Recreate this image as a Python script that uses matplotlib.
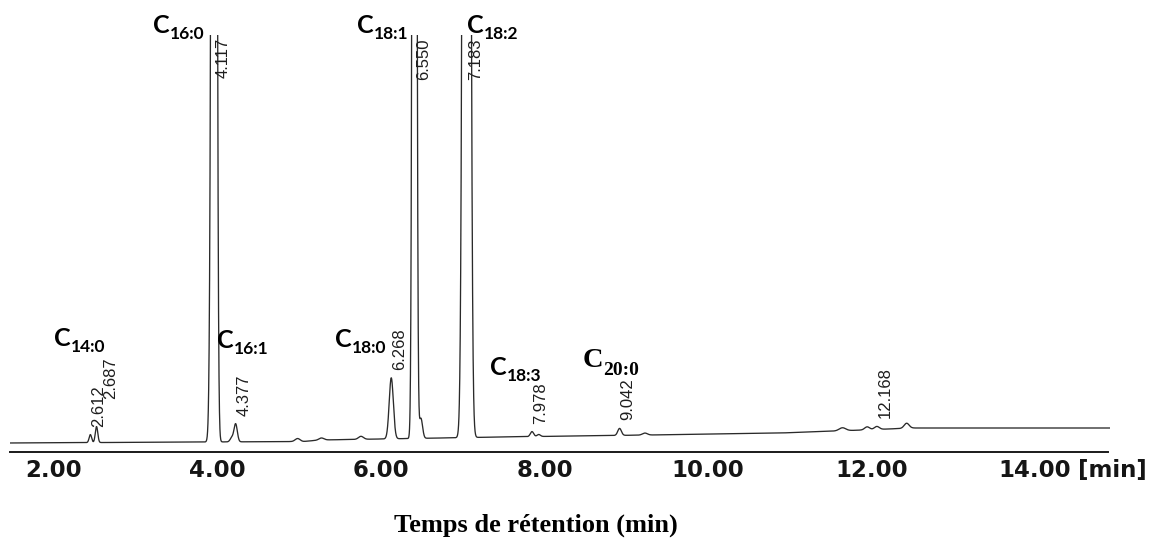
import numpy as np
import matplotlib
matplotlib.use("Agg")
import matplotlib.pyplot as plt
from matplotlib import font_manager

# Printed retention-time scale under the trace
scale_ticks = [2, 4, 6, 8, 10, 12, 14]
scale_labels = ["2.00", "4.00", "6.00", "8.00", "10.00", "12.00", "14.00"]

# Chromatogram peaks: retention time (min), height (signal units), width sigma (min)
peak_rt = [2.612, 2.687, 4.085, 4.117, 4.33, 4.377, 5.13, 5.42, 5.90,
           6.268, 6.550, 6.628, 7.183, 7.978, 8.06, 9.042, 9.35,
           11.75, 12.05, 12.168, 12.53]
peak_height = [8, 16, 175, 3000, 4, 18, 3, 2, 3,
               61, 2600, 20, 3500, 5, 2, 7, 2,
               3, 3, 3, 5]
peak_sigma = [0.015, 0.015, 0.02, 0.021, 0.02, 0.02, 0.03, 0.03, 0.03,
              0.025, 0.018, 0.02, 0.029, 0.02, 0.02, 0.022, 0.03,
              0.04, 0.03, 0.03, 0.03]

# Baseline drift of the detector signal
drift_rt = [1.6, 4.0, 5.2, 5.4, 7.6, 9.4, 10.2, 11.0, 12.0, 12.6, 15.0]
drift_level = [0, 1, 1.5, 3, 6, 8, 9, 10, 13, 15, 15]

# Retention times printed by the integrator
labelled_rt = [2.612, 2.687, 4.117, 4.377, 6.268, 6.550, 7.183, 7.978, 9.042, 12.168]

# Fatty acid assignments
fa_sub = ["14:0", "16:0", "16:1", "18:0", "18:1", "18:2", "18:3", "20:0"]
fa_serif = [False, False, False, False, False, False, False, True]
fa_anchor = [(2.17, 97), (3.37, 410), (4.15, 95), (5.58, 96),
             (5.85, 410), (7.19, 410), (7.47, 68), (8.59, 76)]

W, H, DPI = 1150, 542, 100
fig = plt.figure(figsize=(W / DPI, H / DPI), dpi=DPI)
fig.patch.set_facecolor("white")

installed = {f.name for f in font_manager.fontManager.ttflist}
sans_bold = "Lato" if "Lato" in installed else "DejaVu Sans"
label_font = "Liberation Sans"

# Trace axes (pixel box: x 10..1110, y 35..447)
ax = fig.add_axes([10 / W, (H - 447) / H, 1100 / W, 412 / H])
t0, t1 = 1.6355, 15.001
ax.set_xlim(t0, t1)
ax.set_ylim(-4, 408)
ax.axis("off")

t = np.linspace(t0, t1, 12000)
signal = np.interp(t, drift_rt, drift_level).astype(float)
for rt, h, s in zip(peak_rt, peak_height, peak_sigma):
    signal += h * np.exp(-0.5 * ((t - rt) / s) ** 2)
ax.plot(t, signal, color="#2a2a2a", lw=0.95, solid_joinstyle="round")

# Integrator labels, rotated, sitting just above each apex;
# a label crowding the previous one is nudged right and up
ytop = 408
prev_bottom = None
prev_rt = None
for rt in labelled_rt:
    apex = float(np.interp(rt, t, signal))
    txt = f"{rt:.3f}"
    if apex > ytop - 45:
        ax.text(rt + 0.02, ytop - 3, txt, rotation=90, ha="left", va="top",
                fontsize=12, family=label_font, color="#1e1e1e", clip_on=False)
        prev_bottom, prev_rt = None, rt
    else:
        x, y = rt + 0.01, apex + 8
        if prev_bottom is not None and rt - prev_rt < 0.15:
            x = prev_rt + 0.16
            y = max(y, prev_bottom + 28)
        ax.text(x, y, txt, rotation=90, ha="left", va="bottom", fontsize=12,
                family=label_font, color="#1e1e1e", clip_on=False)
        prev_bottom, prev_rt = y, rt

# Fatty acid names with subscripts
for sub, serif, (x, y) in zip(fa_sub, fa_serif, fa_anchor):
    fam = "Liberation Serif" if serif else sans_bold
    size_c = 20.5 if serif else 18
    size_s = 14 if serif else 12.5
    c = ax.text(x, y, "C", fontsize=size_c, fontweight="bold", family=fam,
                ha="left", va="baseline", color="black", clip_on=False)
    ax.annotate(sub, xy=(1, 0), xycoords=c, xytext=(0.3, -1.5),
                textcoords="offset points", fontsize=size_s, fontweight="bold",
                family=fam, ha="left", va="baseline", color="black",
                annotation_clip=False)

# Printed time scale strip (line at y=452 px)
sx = fig.add_axes([10 / W, (H - 452) / H, 1098 / W, 0.0001])
sx.set_xlim(1.462, 14.893)
sx.set_ylim(0, 1)
for side in ("top", "left", "right"):
    sx.spines[side].set_visible(False)
sx.spines["bottom"].set_linewidth(1.4)
sx.spines["bottom"].set_color("#1a1a1a")
sx.set_yticks([])
sx.set_xticks(scale_ticks)
sx.set_xticklabels(scale_labels, fontsize=16.5, fontweight="bold",
                   family="DejaVu Sans", color="#151515")
sx.tick_params(axis="x", length=0, pad=5)
sx.annotate("[min]", xy=(14, 0), xycoords="data", xytext=(31, -5),
            textcoords="offset points", fontsize=16.5, fontweight="bold",
            family="DejaVu Sans", color="#151515", ha="left", va="top",
            annotation_clip=False)

fig.text(536 / W, 1 - 525 / H, "Temps de rétention (min)", ha="center", va="center",
         fontsize=19, fontweight="bold", family="Liberation Serif", color="black")

fig.savefig("out.png", dpi=DPI, facecolor="white")
